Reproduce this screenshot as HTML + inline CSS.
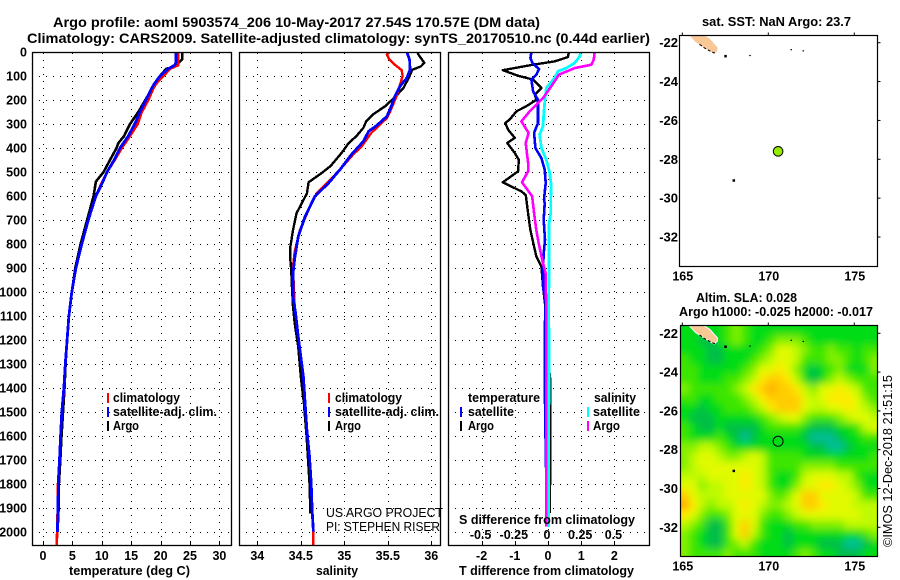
<!DOCTYPE html>
<html lang="en">
<head>
<meta charset="utf-8">
<title>Argo profile 5903574_206</title>
<style>
html,body{margin:0;padding:0;background:#fff;width:900px;height:580px;overflow:hidden}
svg{display:block;position:absolute;left:0;top:0}
text{font-family:"Liberation Sans",sans-serif;fill:#000}
.b{font-weight:bold;font-size:12.5px}
.l{font-weight:bold;font-size:13px}
.t{font-weight:bold;font-size:14px}
.thin{font-size:12.5px}
</style>
</head>
<body>
<svg id="chart" width="900" height="580" viewBox="0 0 900 580" xmlns="http://www.w3.org/2000/svg">
<defs>
<clipPath id="clip-map-top"><rect x="679.5" y="35.5" width="198" height="231"/></clipPath>
<clipPath id="clip-map-bottom"><rect x="680.5" y="325.5" width="197" height="231"/></clipPath>
<clipPath id="clip-t"><rect x="32" y="52" width="199" height="493"/></clipPath>
<clipPath id="clip-s"><rect x="239" y="52" width="201" height="493"/></clipPath>
<clipPath id="clip-d"><rect x="448" y="52" width="201" height="493"/></clipPath>
<filter id="soften" x="-5%" y="-5%" width="110%" height="110%"><feGaussianBlur stdDeviation="4"/></filter>
</defs>
<rect x="0" y="0" width="900" height="580" fill="#fff"/>

<text class="t" x="53" y="27" textLength="487" lengthAdjust="spacingAndGlyphs">Argo profile: aoml 5903574_206 10-May-2017 27.54S 170.57E (DM data)</text>
<text class="t" x="27" y="43" textLength="623" lengthAdjust="spacingAndGlyphs">Climatology: CARS2009. Satellite-adjusted climatology: synTS_20170510.nc (0.44d earlier)</text>

<text class="b" x="69" y="575" textLength="121" lengthAdjust="spacingAndGlyphs">temperature (deg C)</text>
<text class="b" x="316" y="575" textLength="42" lengthAdjust="spacingAndGlyphs">salinity</text>
<text class="b" x="459" y="575" textLength="175" lengthAdjust="spacingAndGlyphs">T difference from climatology</text>

<script>
// ---- chart data ----
const depthTicks = [0,100,200,300,400,500,600,700,800,900,1000,1100,1200,1300,1400,1500,1600,1700,1800,1900,2000];
const tempTicks = [0,5,10,15,20,25,30];
const salTicks = [34,34.5,35,35.5,36];
const salTickLabels = ['34','34.5','35','35.5','36'];
const tDiffTicks = [-2,-1,0,1,2];
const sDiffTicks = [-0.5,-0.25,0,0.25,0.5];
const sDiffTickLabels = ['-0.5','-0.25','0','0.25','0.5'];
const lonTicks = [165,170,175];
const latTicks = [-22,-24,-26,-28,-30,-32];

const tArgoDepth = [0,30,40,60,70,90,100,130,150,200,250,300,350,380,400,450,500,540,600,700,800,900,1000,1100,1200,1300,1400,1500,1600,1700,1800,1900,1960];
const tArgoValue = [23.7,23.7,23.3,22.4,21,20.2,19.9,19,18.6,17.4,16.2,14.8,13.8,12.8,12.5,11.4,10.3,9,8.6,7.5,6.4,5.5,4.9,4.4,4.1,3.85,3.65,3.4,3.15,2.95,2.7,2.65,2.55];
const tClimDepth = [0,45,55,70,100,130,150,200,250,300,350,400,450,500,550,600,700,800,900,1000,1100,1200,1300,1400,1500,1600,1700,1800,1900,2000,2054];
const tClimValue = [23,23,23,21.6,20.5,19.3,18.8,17.9,16.8,16.1,14.8,13.4,12.2,10.9,9.9,9,7.7,6.6,5.6,4.9,4.4,4.1,3.8,3.6,3.2,3.0,2.8,2.55,2.5,2.4,2.35];
const tSatDepth = [0,45,55,70,100,130,150,200,250,300,350,400,450,500,550,600,700,800,900,1000,1100,1200,1300,1400,1500,1600,1700,1800,1900,2000];
const tSatValue = [22.6,22.6,22.4,21.3,19.9,19,18.5,17.5,16.5,15.6,14.5,13.1,12.1,10.9,10,9,7.7,6.6,5.6,4.9,4.4,4.1,3.8,3.55,3.2,3.0,2.8,2.6,2.55,2.45];

const sArgoDepth = [0,10,45,60,74,100,150,185,226,260,290,316,350,380,420,476,504,543,589,631,672,742,811,867,908,992,1061,1131,1228,1353,1464,1603,1797,1922];
const sArgoValue = [35.84,35.85,35.92,35.88,35.78,35.75,35.68,35.59,35.47,35.33,35.25,35.22,35.14,35.05,34.97,34.84,34.74,34.59,34.57,34.51,34.45,34.41,34.38,34.38,34.39,34.40,34.41,34.43,34.47,34.50,34.536,34.567,34.6,34.61];
const sClimDepth = [0,11,32,53,76,100,136,185,254,275,296,337,393,428,490,546,589,658,742,832,894,978,1061,1186,1353,1464,1575,1686,1797,1908,1998,2054];
const sClimValue = [35.52,35.49,35.52,35.58,35.66,35.67,35.64,35.6,35.52,35.49,35.43,35.31,35.2,35.1,34.95,34.8,34.68,34.59,34.49,34.43,34.41,34.42,34.43,34.47,34.53,34.55,34.57,34.6,34.62,34.63,34.645,34.645];
const sSatDepth = [0,32,74,108,143,185,226,268,307,330,372,428,490,546,603,686,769,860,922,1019,1089,1186,1353,1464,1575,1686,1797,1908,1998];
const sSatValue = [35.72,35.75,35.755,35.72,35.64,35.58,35.54,35.49,35.37,35.28,35.22,35.08,34.95,34.82,34.66,34.55,34.47,34.43,34.41,34.41,34.44,34.47,34.53,34.55,34.57,34.6,34.62,34.63,34.645];

const dtArgoDepth = [0,21,39,53,76,99,115,150,178,199,226,247,282,296,324,358,379,421,449,497,543,581,596,672,742,811,853,894,978,1075,1103,1250,1367,1920];
const dtArgoValue = [0.63,0.6,0.2,-0.45,-1.36,-0.9,-0.45,-0.2,-0.4,-0.35,-0.65,-0.95,-1.16,-1.29,-1.2,-1.0,-1.23,-1.0,-0.88,-0.9,-1.36,-0.8,-0.67,-0.6,-0.53,-0.42,-0.35,-0.2,-0.15,-0.07,-0.05,-0.02,0.07,0.06];
const dtSatDepth = [0,25,46,71,94,115,164,199,296,337,400,442,490,546,615,630,700,783,839,908,978,1047,1158,1353,1547,1960];
const dtSatValue = [-0.5,-0.53,-0.47,-0.27,-0.35,-0.5,-0.45,-0.3,-0.3,-0.42,-0.38,-0.2,-0.1,-0.07,-0.12,-0.1,-0.13,-0.09,-0.13,-0.15,-0.15,-0.07,-0.1,-0.1,-0.08,-0.03];
const dsSatDepth = [0,18,46,67,80,108,150,199,268,310,344,400,449,504,560,615,672,714,950,1047,1200,1980];
const dsSatValue = [0.244,0.24,0.2,0.138,0.075,0.05,-0.013,-0.023,-0.033,-0.038,-0.063,-0.05,-0.013,0.013,0.025,0.02,0.02,0.008,0.008,0.003,0.008,0.003];
const dsArgoDepth = [0,32,53,67,94,143,192,247,289,337,379,462,497,543,601,672,742,797,867,922,1089,1353,1978];
const dsArgoValue = [0.352,0.344,0.327,0.2,0.083,0.025,-0.038,-0.138,-0.2,-0.146,-0.168,-0.15,-0.15,-0.196,-0.12,-0.105,-0.088,-0.07,-0.043,-0.018,-0.013,-0.013,-0.013];

const floatLon = 170.57;
const floatLat = -27.54;
const landLon = [165.4,166.25,166.6,167.05,167.03,166.85,166.3,165.75];
const landLat = [-21.6,-21.6,-21.8,-22.25,-22.42,-22.55,-22.27,-21.95];
const coastLon = [166.0,166.3,166.6,166.85,167.0];
const coastLat = [-22.08,-22.28,-22.42,-22.53,-22.45];
const isletLon = [167.5,168.95,171.35,172.05,167.98,167.98];
const isletLat = [-22.68,-22.68,-22.38,-22.44,-29.08,-21.62];

const slaRows = [
[2,2,2,2,2,3,4,3,2,2,2,2,2,2,2,2,2,2,2,2,2,2,2],
[2,2,1,1,2,3,4,3,2,2,3,4,4,4,3,2,2,2,2,2,2,2,2],
[2,2,2,1,1,2,2,2,2,3,4,6,6,5,4,3,3,4,3,3,2,3,3],
[3,2,2,1,1,2,2,2,3,4,5,6,6,5,3,3,3,4,4,3,2,3,4],
[3,3,2,2,2,2,2,3,4,6,6,7,6,4,2,1,2,3,4,2,2,2,4],
[3,3,2,2,2,3,3,4,5,7,8,8,7,5,2,1,2,4,5,4,3,3,3],
[4,3,3,3,3,3,4,5,7,8,9,8,8,7,5,4,6,6,7,6,5,3,3],
[3,3,2,2,3,3,3,4,5,7,8,8,8,8,6,5,6,7,7,7,6,4,3],
[2,2,1,2,2,3,3,3,4,5,7,8,8,8,6,5,5,6,6,7,6,5,4],
[2,1,1,1,2,2,2,2,2,3,4,5,6,6,4,3,3,3,4,5,6,6,5],
[3,2,1,1,2,1,1,1,1,2,3,3,3,3,2,1,1,1,2,2,3,5,6],
[3,2,2,2,3,2,1,0,1,2,2,2,2,2,1,0,0,0,1,2,2,3,3],
[4,4,5,5,4,3,2,2,2,2,2,2,2,2,2,1,1,0,0,1,2,2,2],
[4,5,6,6,5,4,4,5,6,5,3,3,3,3,2,2,2,2,2,2,2,2,3],
[4,5,6,6,6,6,6,6,6,5,3,3,3,3,4,4,4,4,3,3,3,3,3],
[5,5,5,6,6,6,6,7,6,5,3,2,2,3,5,6,6,6,5,5,3,2,2],
[6,6,4,5,5,6,6,7,6,5,3,2,2,4,6,6,7,7,6,5,4,2,2],
[8,6,5,5,5,6,6,6,6,6,4,3,4,6,8,8,6,6,6,6,5,3,3],
[9,7,5,4,5,5,6,7,6,5,4,4,5,6,8,8,7,6,6,6,5,5,5],
[7,6,4,3,3,4,6,6,6,4,3,3,4,5,6,6,6,6,6,6,6,5,5],
[5,4,3,1,1,3,6,8,6,3,2,2,2,3,3,4,4,4,4,5,5,5,5],
[4,3,2,1,1,3,6,8,5,3,2,2,1,2,2,2,2,2,2,2,2,3,4],
[4,3,2,1,1,3,4,5,3,2,2,2,1,2,2,2,1,1,1,0,0,1,2],
[4,3,3,3,3,4,3,3,3,2,2,2,2,3,4,3,2,2,1,1,1,2,2]
];
const slaLevelColors = ['#00be96','#00be46','#00dc14','#3ce600','#82f000','#befa00','#e1fa00','#ffeb00','#ffcd00','#ffaa00'];

// ---- helpers ----
const svg = document.getElementById('chart');
const NS = 'http://www.w3.org/2000/svg';
function mk(parent, tag, props) {
  const e = document.createElementNS(NS, tag);
  for (const k in props) e.setAttribute(k, props[k]);
  parent.appendChild(e);
  return e;
}
const depthY = d => 52 + d * 0.24;
const tempX = v => 43 + v * 5.88;
const salX = v => 257.3 + (v - 34) * 87;
const tDiffX = v => 548 + v * 33.2;
const sDiffX = v => 548 + v * 132.8;
const mapX = lon => 682.3 + (lon - 165) * 17.2;
const mapTopY = lat => 42.7 + (-22 - lat) * 19.43;
const mapBotY = lat => 333.3 + (-22 - lat) * 19.4;

function panelFrame(name, x0, x1, gridXs) {
  const g = mk(svg, 'g', {});
  
  
  depthTicks.forEach(d => {
    if (d === 0) return;
    const l = mk(g, 'line', {x1:x0, x2:x1, y1:depthY(d)+0.5, y2:depthY(d)+0.5, stroke:'#000', 'stroke-width':1, 'stroke-dasharray':'1 6'});
    
    
  });
  gridXs.forEach(x => {
    const l = mk(g, 'line', {x1:Math.round(x)+0.5, x2:Math.round(x)+0.5, y1:53, y2:545, stroke:'#000', 'stroke-width':1, 'stroke-dasharray':'1 6'});
    
    
    const t = mk(g, 'line', {x1:Math.round(x)+0.5, x2:Math.round(x)+0.5, y1:541, y2:545, stroke:'#000', 'stroke-width':1});
    
    
  });
}
function panelBorder(name, x0, x1) {
  const r = mk(svg, 'rect', {x:x0+0.5, y:52.5, width:x1-x0, height:493, fill:'none', stroke:'#000', 'stroke-width':1.3});
  
  
}
function series(name, clip, depths, values, xFn, color, width) {
  const pts = depths.map((d, i) => xFn(values[i]).toFixed(1) + ',' + depthY(d).toFixed(1)).join(' ');
  const p = mk(svg, 'polyline', {points:pts, fill:'none', stroke:color, 'stroke-width':width, 'clip-path':'url(#' + clip + ')', 'shape-rendering':'crispEdges', 'stroke-linejoin':'round'});
  
  
}
function label(name, x, y, str, anchor, cls) {
  const t = mk(svg, 'text', {x:x, y:y, class:cls || 'b', 'text-anchor':anchor});
  t.textContent = str;
  
  
}

// ---- profile panels ----
panelFrame('temperature-panel', 32, 231, tempTicks.map(tempX));
series('temperature-argo', 'clip-t', tArgoDepth, tArgoValue, tempX, '#000', 2.6);
series('temperature-climatology', 'clip-t', tClimDepth, tClimValue, tempX, '#f00', 2.6);
series('temperature-satellite', 'clip-t', tSatDepth, tSatValue, tempX, '#00f', 2.8);
panelBorder('temperature-panel', 32, 231);

panelFrame('salinity-panel', 239, 440, salTicks.map(salX));
series('salinity-argo', 'clip-s', sArgoDepth, sArgoValue, salX, '#000', 2.4);
series('salinity-climatology', 'clip-s', sClimDepth, sClimValue, salX, '#f00', 2.4);
series('salinity-satellite', 'clip-s', sSatDepth, sSatValue, salX, '#00f', 2.8);
panelBorder('salinity-panel', 239, 440);

panelFrame('difference-panel', 448, 649, tDiffTicks.map(tDiffX));
series('t-diff-argo', 'clip-d', dtArgoDepth, dtArgoValue, tDiffX, '#000', 2.4);
series('t-diff-satellite', 'clip-d', dtSatDepth, dtSatValue, tDiffX, '#00f', 2.6);
series('s-diff-satellite', 'clip-d', dsSatDepth, dsSatValue, sDiffX, '#0ff', 2.8);
series('s-diff-argo', 'clip-d', dsArgoDepth, dsArgoValue, sDiffX, '#f0f', 2.6);
panelBorder('difference-panel', 448, 649);

depthTicks.forEach(d => label('depth-tick-label', 27, depthY(d) + 4.5, String(d), 'end'));
tempTicks.forEach(v => label('temperature-tick-label', tempX(v), 560, String(v), 'middle'));
salTicks.forEach((v, i) => label('salinity-tick-label', salX(v), 560, salTickLabels[i], 'middle'));
tDiffTicks.forEach(v => label('t-difference-tick-label', tDiffX(v), 560, String(v), 'middle'));
sDiffTicks.forEach((v, i) => label('s-difference-tick-label', sDiffX(v) - 1, 539, sDiffTickLabels[i], 'middle'));

// ---- maps ----
function drawLand(parent, yFn, clip, halo) {
  const landG = mk(parent, 'g', {'clip-path':'url(#' + clip + ')'});
  
  
  const pts = landLon.map((lon, i) => mapX(lon).toFixed(1) + ',' + yFn(landLat[i]).toFixed(1)).join(' ');
  const poly = mk(landG, 'polygon', {points:pts, fill:'#fac896', stroke: halo ? '#fff' : 'none', 'stroke-width':1});
  
  
  const cpts = coastLon.map((lon, i) => mapX(lon).toFixed(1) + ',' + yFn(coastLat[i]).toFixed(1)).join(' ');
  const coast = mk(landG, 'polyline', {points:cpts, fill:'none', stroke:'#000', 'stroke-width':1, 'stroke-dasharray':'3 2'});
  
  
  isletLon.forEach((lon, i) => {
    const big = i === 0 || i === 4;
    const isl = mk(landG, 'rect', {x:mapX(lon)-1, y:yFn(isletLat[i])-1, width:big ? 2.5 : 1.5, height:big ? 2.5 : 1.2, fill:i === 5 ? '#fac896' : '#000'});
    
    
  });
}
function mapTicks(name, x0, x1, y0, y1, yFn) {
  lonTicks.forEach(lon => {
    const t = mk(svg, 'line', {x1:mapX(lon), x2:mapX(lon), y1:y0-3, y2:y0, stroke:'#000', 'stroke-width':1});
    
    
    label(name + '-lon-label', mapX(lon) + 0.5, y1 + 14, String(lon), 'middle');
  });
  latTicks.forEach(lat => {
    const t = mk(svg, 'line', {x1:x1, x2:x1+3, y1:yFn(lat), y2:yFn(lat), stroke:'#000', 'stroke-width':1});
    
    
    label(name + '-lat-label', 678, yFn(lat) + 4.5, String(lat), 'end', 'l');
  });
  const r = mk(svg, 'rect', {x:x0, y:y0, width:x1-x0, height:y1-y0, fill:'none', stroke:'#000', 'stroke-width':1.2});
  
  
}

// top map
drawLand(svg, mapTopY, 'clip-map-top', false);
const floatTop = mk(svg, 'circle', {cx:mapX(floatLon), cy:mapTopY(floatLat) + 1, r:4.8, fill:'#96eb00', stroke:'#000', 'stroke-width':1});


mapTicks('sst-map', 679.5, 877.5, 35.5, 266.5, mapTopY);

// bottom map heatmap
const heatClip = mk(svg, 'g', {'clip-path':'url(#clip-map-bottom)'});


const heat = mk(heatClip, 'g', {filter:'url(#soften)'});
const lonStart = 164.9, latStart = -21.6, cellDeg = 0.5, bleed = 16;
slaRows.forEach((row, r) => {
  row.forEach((level, c) => {
    let x = mapX(lonStart + c * cellDeg), y = mapBotY(latStart - r * cellDeg);
    let w = mapX(lonStart + (c + 1) * cellDeg) - x + 0.5, h = mapBotY(latStart - (r + 1) * cellDeg) - y + 0.5;
    if (c === 0) { x -= bleed; w += bleed; }
    if (r === 0) { y -= bleed; h += bleed; }
    if (c === row.length - 1) w += bleed;
    if (r === slaRows.length - 1) h += bleed;
    const cell = mk(heat, 'rect', {x:x, y:y, width:w, height:h, fill:slaLevelColors[level]});
    
    
  });
});
drawLand(svg, mapBotY, 'clip-map-bottom', true);
const floatBot = mk(svg, 'circle', {cx:mapX(floatLon), cy:mapBotY(floatLat) + 0.5, r:5, fill:'none', stroke:'#000', 'stroke-width':1});


mapTicks('sla-map', 680.5, 877.5, 325.5, 556.5, mapBotY);
</script>

<text class="b" x="459" y="524" textLength="176" lengthAdjust="spacingAndGlyphs">S difference from climatology</text>
<text class="thin" x="326" y="517" textLength="117" lengthAdjust="spacingAndGlyphs">US ARGO PROJECT</text>
<text class="thin" x="326" y="531" textLength="114" lengthAdjust="spacingAndGlyphs">PI: STEPHEN RISER</text>

<g>
<rect x="107" y="393" width="2" height="10" fill="#f00"/>
<text class="b" x="113" y="402" textLength="67" lengthAdjust="spacingAndGlyphs">climatology</text>
<rect x="107" y="407" width="2" height="10" fill="#00f"/>
<text class="b" x="113" y="416" textLength="104" lengthAdjust="spacingAndGlyphs">satellite-adj. clim.</text>
<rect x="107" y="421" width="2" height="10" fill="#000"/>
<text class="b" x="113" y="430" textLength="26" lengthAdjust="spacingAndGlyphs">Argo</text>
</g>
<g>
<rect x="328" y="393" width="2" height="10" fill="#f00"/>
<text class="b" x="335" y="402" textLength="67" lengthAdjust="spacingAndGlyphs">climatology</text>
<rect x="328" y="407" width="2" height="10" fill="#00f"/>
<text class="b" x="335" y="416" textLength="104" lengthAdjust="spacingAndGlyphs">satellite-adj. clim.</text>
<rect x="328" y="421" width="2" height="10" fill="#000"/>
<text class="b" x="335" y="430" textLength="26" lengthAdjust="spacingAndGlyphs">Argo</text>
</g>
<g>
<text class="b" x="468" y="402" textLength="72" lengthAdjust="spacingAndGlyphs">temperature</text>
<rect x="460" y="407" width="2" height="10" fill="#00f"/>
<text class="b" x="468" y="416" textLength="46" lengthAdjust="spacingAndGlyphs">satellite</text>
<rect x="460" y="421" width="2" height="10" fill="#000"/>
<text class="b" x="468" y="430" textLength="26" lengthAdjust="spacingAndGlyphs">Argo</text>
<text class="b" x="594" y="402" textLength="42" lengthAdjust="spacingAndGlyphs">salinity</text>
<rect x="587" y="407" width="2" height="10" fill="#0ff"/>
<text class="b" x="593" y="416" textLength="47" lengthAdjust="spacingAndGlyphs">satellite</text>
<rect x="587" y="421" width="2" height="10" fill="#f0f"/>
<text class="b" x="593" y="430" textLength="27" lengthAdjust="spacingAndGlyphs">Argo</text>
</g>

<text class="b" x="702" y="26" textLength="149" lengthAdjust="spacingAndGlyphs">sat. SST: NaN Argo: 23.7</text>
<text class="b" x="696" y="302" textLength="101" lengthAdjust="spacingAndGlyphs">Altim. SLA: 0.028</text>
<text class="b" x="679" y="316" textLength="194" lengthAdjust="spacingAndGlyphs">Argo h1000: -0.025 h2000: -0.017</text>
<text class="thin" transform="translate(892,547) rotate(-90)" x="0" y="0" textLength="172" lengthAdjust="spacingAndGlyphs">©IMOS 12-Dec-2018 21:51:15</text>
</svg>
</body>
</html>
